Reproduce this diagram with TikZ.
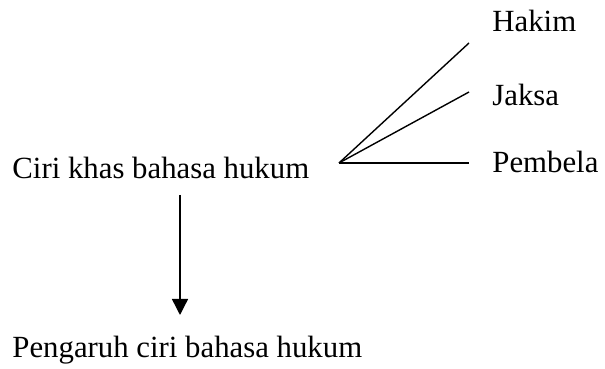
\documentclass[tikz,border=0pt]{standalone}
\usepackage{fontspec}
\setmainfont{Liberation Serif}
\usetikzlibrary{positioning,arrows.meta}

\begin{document}
\begin{tikzpicture}[
        x=0.5pt, y=0.5pt,
        every node/.style={font=\fontsize{15.4}{18}\selectfont},
        label/.style={inner sep=0pt, anchor=base west},
        line/.style={line width=0.7pt},
        arrow/.style={-{Triangle[width=8pt,length=8pt]}, line width=0.7pt}
    ]
        \useasboundingbox (0,0) rectangle (605,369);

        \node[label] (ciri)     at (12,190) {Ciri khas bahasa hukum};
        \node[label] (pengaruh) at (12,11)  {Pengaruh ciri bahasa hukum};
        \node[label] (hakim)    at (492,337) {Hakim};
        \node[label] (jaksa)    at (492,263) {Jaksa};
        \node[label] (pembela)  at (492,196) {Pembela};

        \coordinate (fork) at (339,206);
        \coordinate (endhakim)   at (469,326);
        \coordinate (endjaksa)   at (469,277);
        \coordinate (endpembela) at (469,206);
        \coordinate (arrtop) at (180,174);
        \coordinate (arrtip) at (180,54);

        \draw[line] (fork)--(endhakim);
        \draw[line] (fork)--(endjaksa);
        \draw[line] (fork)--(endpembela);
        \draw[arrow] (arrtop)--(arrtip);
    \end{tikzpicture}
\end{document}
